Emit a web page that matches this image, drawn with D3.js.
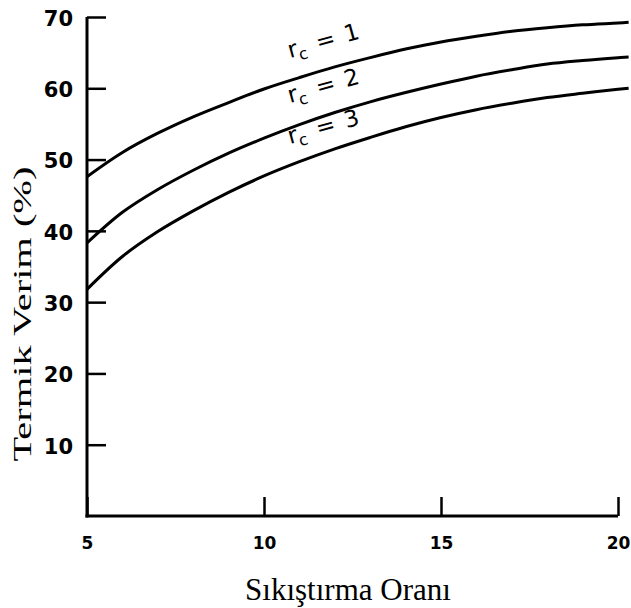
<!DOCTYPE html>
<html>
<head>
<meta charset="utf-8">
<script src="https://cdn.jsdelivr.net/npm/d3@7"></script>
<style>
    body { margin: 0; background: #fff; }
    svg { display: block; }
</style>
</head>
<body>
<div id="chart"></div>
<script>
// compression ratio values (x) and thermal efficiency (%) for each cutoff ratio
const compressionRatio = [5, 6, 7, 8, 9, 10, 11, 12, 13, 14, 15, 16, 17, 18, 19, 20, 20.3];
const effRc1 = [47.6, 51.0, 53.7, 56.0, 58.0, 59.9, 61.5, 63.0, 64.3, 65.5, 66.5, 67.3, 68.0, 68.5, 68.9, 69.15, 69.25];
const effRc2 = [38.3, 42.6, 45.8, 48.5, 50.9, 53.0, 54.9, 56.6, 58.1, 59.4, 60.6, 61.7, 62.6, 63.4, 63.9, 64.3, 64.4];
const effRc3 = [31.8, 36.4, 39.9, 42.8, 45.4, 47.7, 49.7, 51.5, 53.1, 54.6, 55.9, 57.0, 57.9, 58.7, 59.3, 59.85, 60.0];
const cutoffLabels = ["1", "2", "3"];
const xTicks = [5, 10, 15, 20];
const yTicks = [10, 20, 30, 40, 50, 60, 70];

const width = 631, height = 608;

const svg = d3.select("#chart").append("svg")
    .attr("width", width)
    .attr("height", height);

// scales
const x = d3.scaleLinear().domain([5, 20]).range([87, 618]);
const y = d3.scaleLinear().domain([0, 70]).range([516, 17]);

// y axis, ticks pointing inward
const yAxis = d3.axisLeft(y)
    .tickValues(yTicks)
    .tickSizeInner(-19)
    .tickSizeOuter(0)
    .tickPadding(14)
    .tickFormat(d3.format("d"));

const yG = svg.append("g")
    .attr("transform", `translate(${x(5)},0)`)
    .call(yAxis);
yG.select(".domain").attr("stroke-width", 3).attr("d", `M0,${y(0) + 1.5}V${y(70)}`);
yG.selectAll(".tick line").attr("stroke-width", 2.5);
yG.selectAll(".tick text")
    .style("font-family", "'DejaVu Sans', sans-serif")
    .style("font-weight", "bold")
    .style("font-size", "21px")
    .attr("dy", "0.4em");

// x axis, ticks pointing up
const xAxis = d3.axisBottom(x)
    .tickValues(xTicks)
    .tickSizeInner(-19)
    .tickSizeOuter(0)
    .tickPadding(21)
    .tickFormat(d3.format("d"));

const xG = svg.append("g")
    .attr("transform", `translate(0,${y(0)})`)
    .call(xAxis);
xG.select(".domain").attr("stroke-width", 3).attr("d", `M${x(5) - 1.5},0H${x(20)}`);
xG.selectAll(".tick line").attr("stroke-width", 2.5);
xG.selectAll(".tick text")
    .style("font-family", "'DejaVu Sans', sans-serif")
    .style("font-weight", "bold")
    .style("font-size", "17px");

// curves
const series = [effRc1, effRc2, effRc3];
const line = d3.line()
    .x(d => x(d[0]))
    .y(d => y(d[1]))
    .curve(d3.curveCatmullRom);

svg.selectAll(".curve")
    .data(series)
    .enter()
    .append("path")
    .attr("class", "curve")
    .attr("d", s => line(compressionRatio.map((c, i) => [c, s[i]])))
    .attr("fill", "none")
    .attr("stroke", "#000")
    .attr("stroke-width", 3);

// curve labels r_c = n
const labelPos = [[290, 58], [290, 103], [290, 144]];
cutoffLabels.forEach((lab, i) => {
    const t = svg.append("text")
        .attr("transform", `translate(${labelPos[i][0]},${labelPos[i][1]}) rotate(-15.5)`)
        .style("font-family", "'DejaVu Sans', sans-serif")
        .style("font-size", "23px")
        .attr("fill", "#000");
    t.append("tspan").text("r");
    t.append("tspan").attr("dy", 5).style("font-size", "16px").text("c");
    t.append("tspan").attr("dy", -5).attr("dx", 11).text("=");
    t.append("tspan").attr("dx", 10).text(lab);
});

// axis titles
svg.append("text")
    .attr("x", 348)
    .attr("y", 600)
    .attr("text-anchor", "middle")
    .style("font-family", "'Liberation Serif', 'Times New Roman', serif")
    .style("font-size", "31px")
    .text("Sıkıştırma Oranı");

svg.append("text")
    .attr("transform", "translate(31,314) rotate(-90)")
    .attr("text-anchor", "middle")
    .attr("textLength", 295)
    .attr("lengthAdjust", "spacingAndGlyphs")
    .style("font-family", "'Liberation Serif', 'Times New Roman', serif")
    .style("font-size", "26px")
    .text("Termik Verim (%)");
</script>
</body>
</html>
